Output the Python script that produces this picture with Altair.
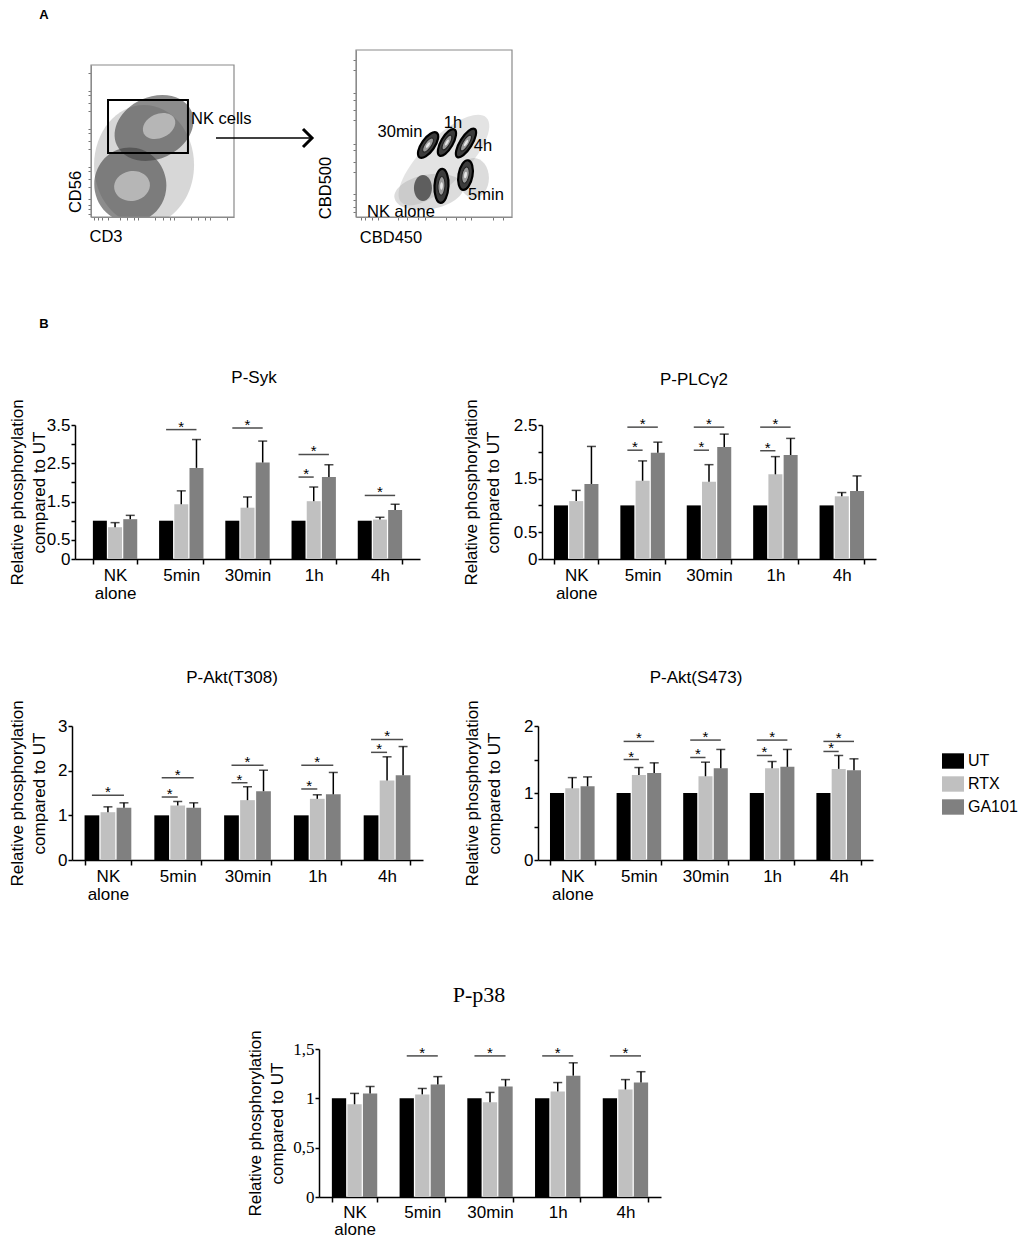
import json
import altair as alt
import pandas as pd

SANS = "Liberation Sans"
SERIF = "Liberation Serif"

# ---------------- Panel B data ----------------
GROUPS = ["NK alone", "5min", "30min", "1h", "4h"]
TREATS = ["UT", "RTX", "GA101"]
BAR_COLORS = ["#000000", "#c0c0c0", "#808080"]
UT_VALUES = [1, 1, 1, 1, 1]

SYK_RTX = [0.83, 1.43, 1.34, 1.51, 1.03]
SYK_RTX_ERR = [0.12, 0.35, 0.28, 0.37, 0.06]
SYK_GA = [1.04, 2.38, 2.52, 2.14, 1.28]
SYK_GA_ERR = [0.10, 0.74, 0.56, 0.32, 0.15]
SYK_SIG_LONG = [None, 3.38, 3.42, 2.73, 1.66]
SYK_SIG_SHORT = [None, None, None, 2.14, None]

PLC_RTX = [1.08, 1.46, 1.44, 1.58, 1.17]
PLC_RTX_ERR = [0.20, 0.37, 0.32, 0.33, 0.07]
PLC_GA = [1.40, 1.98, 2.09, 1.94, 1.27]
PLC_GA_ERR = [0.70, 0.20, 0.24, 0.31, 0.28]
PLC_SIG_LONG = [None, 2.46, 2.46, 2.46, None]
PLC_SIG_SHORT = [None, 2.03, 2.03, 2.02, None]

T308_RTX = [1.07, 1.22, 1.34, 1.37, 1.78]
T308_RTX_ERR = [0.12, 0.09, 0.30, 0.09, 0.53]
T308_GA = [1.17, 1.17, 1.54, 1.47, 1.90]
T308_GA_ERR = [0.11, 0.11, 0.47, 0.49, 0.64]
T308_SIG_LONG = [1.45, 1.84, 2.12, 2.12, 2.70]
T308_SIG_SHORT = [None, 1.41, 1.73, 1.59, 2.41]

S473_RTX = [1.07, 1.27, 1.25, 1.37, 1.36]
S473_RTX_ERR = [0.16, 0.11, 0.21, 0.10, 0.20]
S473_GA = [1.10, 1.30, 1.37, 1.39, 1.34]
S473_GA_ERR = [0.14, 0.15, 0.28, 0.26, 0.17]
S473_SIG_LONG = [None, 1.77, 1.79, 1.79, 1.77]
S473_SIG_SHORT = [None, 1.50, 1.53, 1.56, 1.62]

P38_RTX = [0.94, 1.04, 0.96, 1.07, 1.09]
P38_RTX_ERR = [0.11, 0.06, 0.10, 0.09, 0.10]
P38_GA = [1.05, 1.14, 1.12, 1.23, 1.16]
P38_GA_ERR = [0.07, 0.08, 0.07, 0.13, 0.11]
P38_SIG_LONG = [None, 1.43, 1.43, 1.43, 1.43]
P38_SIG_SHORT = [None, None, None, None, None]

# ---------------- Panel A data (plot units 0-100) ----------------
LEFT_BLOB_X = [37.1, 27.5, 28.7, 44.1, 47.6]
LEFT_BLOB_Y = [34.2, 21.1, 20.4, 58.6, 59.9]
LEFT_BLOB_W = [100, 72, 36, 82, 34]
LEFT_BLOB_H = [120, 75, 30, 62, 24]
LEFT_BLOB_ANGLE = [0, 350, 350, 335, 335]
LEFT_BLOB_FILL = ["#8c8c8c", "#404040", "#c4c4c4", "#404040", "#c4c4c4"]
LEFT_BLOB_OPACITY = [0.35, 0.6, 0.8, 0.6, 0.8]
NK_GATE = [11.9, 67.8, 42.1, 77.0]

RIGHT_BLOB_X = [56.4, 46.8, 75.6, 42.9]
RIGHT_BLOB_Y = [34.1, 15.0, 23.4, 17.4]
RIGHT_BLOB_W = [45, 70, 30, 18]
RIGHT_BLOB_H = [120, 35, 40, 26]
RIGHT_BLOB_ANGLE = [45, 350, 0, 0]
RIGHT_BLOB_FILL = ["#b0b0b0", "#a8a8a8", "#a8a8a8", "#3a3a3a"]
RIGHT_BLOB_OPACITY = [0.35, 0.4, 0.4, 0.75]

GATE_LABELS = ["30min", "1h", "4h", "5min", "NK alone"]
GATE_X = [46.2, 58.3, 70.5, 70.2, 54.8]
GATE_Y = [43.1, 44.6, 44.3, 25.1, 18.6]
GATE_W = [13, 12, 12, 14, 14]
GATE_H = [30, 30, 33, 30, 34]
GATE_ANGLE = [35, 30, 32, 10, 3]
LABEL_X = [28.2, 62.2, 81.4, 83.3, 28.8]
LABEL_Y = [50.9, 56.3, 42.5, 13.2, 3.0]


def label(text, x, y, size=16.5, font=SANS, angle=0, align="center",
          baseline="middle", weight="normal"):
    return alt.Chart(pd.DataFrame({"t": [text]})).mark_text(
        fontSize=size, font=font, angle=angle, align=align, baseline=baseline,
        fontWeight=weight, color="black"
    ).encode(x=alt.value(x), y=alt.value(y), text="t:N")


def spacer(w, h):
    return alt.Chart(pd.DataFrame({"a": [0]})).mark_rect(opacity=0).encode(
        x=alt.value(0), x2=alt.value(w), y=alt.value(0), y2=alt.value(h)
    ).properties(width=w, height=h)


def ellipse_path(w, h):
    a = w / h
    return f"M0,-1A{a:.4f},1 0 1,1 0,1A{a:.4f},1 0 1,1 0,-1Z"


def blob_df(xs, ys, ws, hs, angs, fills, ops):
    return pd.DataFrame({
        "x": xs, "y": ys,
        "path": [ellipse_path(w, h) for w, h in zip(ws, hs)],
        "size": [h * h for h in hs],
        "ang": angs, "fill": fills, "op": ops,
    })


def blob_layer(df, sx, sy, xaxis, yaxis, stroke=None, sw=0):
    kw = dict(filled=True, clip=True, strokeWidth=sw)
    if stroke:
        kw["stroke"] = stroke
    return alt.Chart(df).mark_point(**kw).encode(
        x=alt.X("x:Q", scale=sx, axis=xaxis),
        y=alt.Y("y:Q", scale=sy, axis=yaxis),
        shape=alt.Shape("path:N", scale=None),
        size=alt.Size("size:Q", scale=None),
        angle=alt.Angle("ang:Q", scale=None),
        fill=alt.Fill("fill:N", scale=None),
        opacity=alt.Opacity("op:Q", scale=None),
    )


def flow_axis(vals, orient, offset=0):
    return alt.Axis(values=vals, labels=False, title=None, tickSize=3, orient=orient,
                    offset=offset, tickColor="#777777", domainColor="#8c8c8c", grid=False)


def frame(x0, y0, x1, y1):
    return alt.Chart(pd.DataFrame({"a": [0]})).mark_rect(
        filled=False, stroke="#8a8a8a", strokeWidth=1.2
    ).encode(x=alt.value(x0), x2=alt.value(x1), y=alt.value(y0), y2=alt.value(y1))


# ================= Row A (both dot plots in one view) =================
ROWA_H = 167
LX0, LW, LTOP = 19, 143, 15
RX0, RW = 284, 156
ROWA_W = RX0 + RW

sxl = alt.Scale(domain=[0, 100], nice=False, zero=False, range=[LX0, LX0 + LW])
syl = alt.Scale(domain=[0, 100], nice=False, zero=False, range=[ROWA_H, LTOP])
ticks_l = [2, 5, 8, 12, 20, 25, 30, 33, 45, 50, 55, 58, 70, 75, 80, 83, 95]
xal, yal = flow_axis(ticks_l, "bottom"), flow_axis(ticks_l, "left", -LX0)
left_blobs = blob_layer(
    blob_df(LEFT_BLOB_X, LEFT_BLOB_Y, LEFT_BLOB_W, LEFT_BLOB_H,
            LEFT_BLOB_ANGLE, LEFT_BLOB_FILL, LEFT_BLOB_OPACITY), sxl, syl, xal, yal)
gate_df = pd.DataFrame({"x1": [NK_GATE[0]], "x2": [NK_GATE[1]],
                        "y1": [NK_GATE[2]], "y2": [NK_GATE[3]]})
nk_gate = alt.Chart(gate_df).mark_rect(filled=False, stroke="black", strokeWidth=2).encode(
    x=alt.X("x1:Q", scale=sxl, axis=xal), x2="x2:Q",
    y=alt.Y("y1:Q", scale=syl, axis=yal), y2="y2:Q")
arrow = alt.Chart(pd.DataFrame({"a": [0]})).mark_rule(color="black", strokeWidth=1.5).encode(
    x=alt.value(LX0 + 125), x2=alt.value(LX0 + 219), y=alt.value(LTOP + 73))
arrow_head = alt.Chart(pd.DataFrame({"a": [0]})).mark_point(
    shape="M-1,-1L0,0L-1,1", size=324, stroke="black", strokeWidth=3,
    filled=False, opacity=1, strokeJoin="miter"
).encode(x=alt.value(LX0 + 221), y=alt.value(LTOP + 73))
left_flow = alt.layer(
    left_blobs, frame(LX0, LTOP, LX0 + LW, ROWA_H), nk_gate,
    label("NK cells", LX0 + 100, LTOP + 54, align="left"),
    label("CD56", LX0 - 15, LTOP + 127, angle=270),
    label("CD3", LX0 + 15, LTOP + 172),
    label("A", LX0 - 47, LTOP - 50, size=13, weight="bold"),
    arrow, arrow_head,
)

sxr = alt.Scale(domain=[0, 100], nice=False, zero=False, range=[RX0, RX0 + RW])
syr = alt.Scale(domain=[0, 100], nice=False, zero=False, range=[ROWA_H, 0])
ticks_r = [3, 6, 10, 14, 27, 33, 40, 44, 58, 64, 70, 74, 88, 94]
xar, yar = flow_axis(ticks_r, "bottom"), flow_axis(ticks_r, "left", -RX0)
right_blobs = blob_layer(
    blob_df(RIGHT_BLOB_X, RIGHT_BLOB_Y, RIGHT_BLOB_W, RIGHT_BLOB_H,
            RIGHT_BLOB_ANGLE, RIGHT_BLOB_FILL, RIGHT_BLOB_OPACITY), sxr, syr, xar, yar)
n = len(GATE_X)
gates_outer = blob_layer(
    blob_df(GATE_X, GATE_Y, GATE_W, GATE_H, GATE_ANGLE, ["#3c3c3c"] * n, [1] * n),
    sxr, syr, xar, yar, stroke="black", sw=2.2)
gates_inner = blob_layer(
    blob_df(GATE_X, GATE_Y, [w * 0.5 for w in GATE_W], [h * 0.55 for h in GATE_H],
            GATE_ANGLE, ["#9c9c9c"] * n, [1] * n),
    sxr, syr, xar, yar, stroke="#222222", sw=1)
gates_core = blob_layer(
    blob_df(GATE_X, GATE_Y, [w * 0.2 for w in GATE_W], [h * 0.22 for h in GATE_H],
            GATE_ANGLE, ["#e6e6e6"] * n, [1] * n), sxr, syr, xar, yar)
gate_text = alt.Chart(pd.DataFrame({"t": GATE_LABELS, "x": LABEL_X, "y": LABEL_Y})).mark_text(
    fontSize=16.5, font=SANS, color="black", baseline="middle"
).encode(x=alt.X("x:Q", scale=sxr, axis=xar), y=alt.Y("y:Q", scale=syr, axis=yar), text="t:N")
right_flow = alt.layer(
    right_blobs, frame(RX0, 0, RX0 + RW, ROWA_H), gates_outer, gates_inner, gates_core,
    gate_text,
    label("CBD500", RX0 - 30, 138, angle=270),
    label("CBD450", RX0 + 35, 188),
)

row_a = alt.layer(left_flow, right_flow).resolve_scale(
    x="independent", y="independent").properties(width=ROWA_W, height=ROWA_H)

# ================= Panel B bar charts =================
LEGEND = alt.Legend(
    title=None, orient="none", legendX=870, legendY=700,
    symbolType="M-1,-0.7L1,-0.7L1,0.7L-1,0.7Z", symbolSize=484,
    symbolStrokeWidth=0, labelFontSize=16, labelFont=SANS, labelColor="black",
    labelOffset=4, rowPadding=4, padding=0)


def bar_panel(title, rtx, rtx_err, ga, ga_err, sig_long, sig_short, ymax, ystep,
              ylabels, x0, width, height, po, title_xy, title_font, title_size,
              tick_font, comma, ytitle_x, extra=None, xlab_pad=3, xlab_lh=18):
    step = width / (5 - 0.33 + 2 * po)
    sub = step * 0.67 / 2.92
    rows = []
    for i, g in enumerate(GROUPS):
        rows.append({"group": g, "treat": "UT", "value": UT_VALUES[i], "top": None})
        rows.append({"group": g, "treat": "RTX", "value": rtx[i], "top": rtx[i] + rtx_err[i]})
        rows.append({"group": g, "treat": "GA101", "value": ga[i], "top": ga[i] + ga_err[i]})
    df = pd.DataFrame(rows)
    dfe = df.dropna(subset=["top"]).copy()
    dfl = pd.DataFrame({"group": [g for g, v in zip(GROUPS, sig_long) if v is not None],
                        "level": [v for v in sig_long if v is not None]})
    dfs = pd.DataFrame({"group": [g for g, v in zip(GROUPS, sig_short) if v is not None],
                        "level": [v for v in sig_short if v is not None]})

    nt = int(round(ymax / ystep))
    yvals = [round(k * ystep, 3) for k in range(nt + 1)]
    fmt = "replace(toString(datum.value), '.', ',')" if comma else "toString(datum.value)"
    xaxis = alt.Axis(
        title=None, orient="bottom", labelAngle=0, tickBand="extent", domainColor="black",
        domainWidth=1.5, tickColor="black", tickWidth=1.5, tickSize=5,
        labelFont=SANS, labelFontSize=17, labelColor="black", labelPadding=xlab_pad,
        labelLineHeight=xlab_lh, grid=False,
        labelExpr="datum.label == 'NK alone' ? ['NK', 'alone'] : datum.label")
    yaxis = alt.Axis(
        title=["Relative phosphorylation", "compared to UT"], values=yvals,
        orient="left", offset=-x0,
        labelExpr=f"indexof({json.dumps(ylabels)}, datum.value) >= 0 ? {fmt} : ''",
        grid=False, domainColor="black", domainWidth=1.5, tickColor="black",
        tickWidth=1.5, tickSize=4, labelFont=tick_font, labelFontSize=17,
        labelColor="black", labelPadding=1, titleFont=SANS, titleFontSize=17,
        titleFontWeight="normal", titleColor="black", titleLineHeight=22,
        titleX=ytitle_x, titleY=height / 2, titleAngle=270,
        titleBaseline="middle", titleAlign="center")
    xs = alt.Scale(domain=GROUPS, range=[x0, x0 + width], paddingInner=0.33, paddingOuter=po)
    ys = alt.Scale(domain=[0, ymax], range=[height, 0], nice=False)
    X = alt.X("group:N", sort=GROUPS, scale=xs, axis=xaxis)
    XO = alt.XOffset("treat:N", sort=TREATS,
                     scale=alt.Scale(domain=TREATS, paddingInner=0.08, paddingOuter=0))

    def Y(field):
        return alt.Y(f"{field}:Q", scale=ys, axis=yaxis)

    bars = alt.Chart(df).mark_bar().encode(
        x=X, xOffset=XO, y=Y("value"),
        color=alt.Color("treat:N", sort=TREATS,
                        scale=alt.Scale(domain=TREATS, range=BAR_COLORS), legend=LEGEND))
    err = alt.Chart(dfe).mark_rule(color="black", strokeWidth=1.5).encode(
        x=X, xOffset=XO, y=Y("value"), y2="top:Q")
    caps = alt.Chart(dfe).mark_tick(color="black", thickness=1.5, size=9).encode(
        x=X, xOffset=XO, y=Y("top"))
    layers = [bars, err, caps]
    if len(dfl):
        layers.append(alt.Chart(dfl).mark_tick(color="black", thickness=1.5, size=2 * sub).encode(
            x=X, y=Y("level")))
        layers.append(alt.Chart(dfl).mark_text(text="*", fontSize=15, font=SANS, color="black",
                                               baseline="alphabetic", dy=2).encode(
            x=X, y=Y("level")))
    if len(dfs):
        layers.append(alt.Chart(dfs).mark_tick(color="black", thickness=1.5, size=sub,
                                               xOffset=-sub / 2).encode(x=X, y=Y("level")))
        layers.append(alt.Chart(dfs).mark_text(text="*", fontSize=15, font=SANS, color="black",
                                               baseline="alphabetic", dy=2, dx=-sub / 2).encode(
            x=X, y=Y("level")))
    layers.append(label(title, x0 + title_xy[0], title_xy[1], size=title_size, font=title_font))
    if extra is not None:
        layers.append(extra)
    return alt.layer(*layers)


def row(*panels, width, height):
    if len(panels) == 1:
        return panels[0].properties(width=width, height=height)
    return alt.layer(*panels).resolve_scale(
        x="independent", y="independent", xOffset="independent"
    ).properties(width=width, height=height)


# plot-area x positions are relative to the left edge of the figure grid
syk = bar_panel("P-Syk", SYK_RTX, SYK_RTX_ERR, SYK_GA, SYK_GA_ERR, SYK_SIG_LONG, SYK_SIG_SHORT,
                3.5, 0.5, [0, 0.5, 1.5, 2.5, 3.5], 3, 345, 134, 0.27, (179, -47), SANS, 17,
                SANS, False, -57.5, extra=label("B", 3 - 31, -101, size=13, weight="bold"))
plc = bar_panel("P-PLCγ2", PLC_RTX, PLC_RTX_ERR, PLC_GA, PLC_GA_ERR, PLC_SIG_LONG, PLC_SIG_SHORT,
                2.5, 0.5, [0, 0.5, 1.5, 2.5], 470, 334, 134, 0.18, (152, -45), SANS, 17,
                SANS, False, -71)
t308 = bar_panel("P-Akt(T308)", T308_RTX, T308_RTX_ERR, T308_GA, T308_GA_ERR, T308_SIG_LONG,
                 T308_SIG_SHORT, 3, 1, [0, 1, 2, 3], 0, 351, 134, 0.18, (160, -48), SANS, 17,
                 SANS, False, -54.5)
s473 = bar_panel("P-Akt(S473)", S473_RTX, S473_RTX_ERR, S473_GA, S473_GA_ERR, S473_SIG_LONG,
                 S473_SIG_SHORT, 2, 0.5, [0, 1, 2], 466, 335, 134, 0.18, (158, -48), SANS, 17,
                 SANS, False, -66)
p38 = bar_panel("P-p38", P38_RTX, P38_RTX_ERR, P38_GA, P38_GA_ERR, P38_SIG_LONG, P38_SIG_SHORT,
                1.5, 0.5, [0, 0.5, 1, 1.5], 247, 342, 148, 0.19, (160, -54), SERIF, 22,
                SERIF, True, -64, xlab_pad=2, xlab_lh=17)

row_b1 = row(syk, plc, width=804, height=134)
row_b2 = row(t308, s473, width=801, height=134)
row_b3 = row(p38, width=589, height=148)

chart = alt.vconcat(
    row_a, spacer(1, 208), row_b1, spacer(1, 167), row_b2, spacer(1, 189), row_b3,
    spacing=0, bounds="flush",
).properties(
    padding={"left": 0, "top": 1, "right": 0, "bottom": 0}
).configure(font=SANS).configure_view(strokeWidth=0)

chart.save("out.html", embed_options={"renderer": "svg", "actions": False})
